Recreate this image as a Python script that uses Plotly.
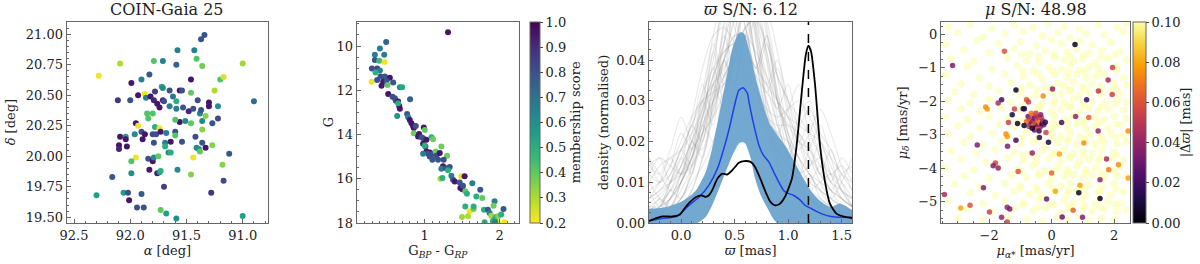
import plotly.graph_objects as go

# ---------------- Panel 1: sky positions ----------------
p1_ra = [91.34, 91.37, 91.58, 91.43, 92.09, 91.79, 91.71, 91.41, 91.59, 91.36, 91.00, 92.28, 91.83, 91.90, 91.99,
         91.46, 91.20, 91.17, 91.25, 92.11, 92.00, 91.93, 91.87, 91.86, 91.82, 91.78, 91.79, 91.76, 91.72, 91.71,
         91.65, 91.71, 91.70, 91.74, 91.65, 91.62, 91.59, 91.59, 91.56, 91.54, 91.46, 91.53, 91.56, 91.60, 91.51,
         91.48, 91.44, 91.40, 91.38, 91.37, 91.36, 91.33, 91.30, 91.30, 91.22, 91.22, 91.27, 91.36, 91.46, 91.85,
         91.80, 91.84, 91.95, 91.93, 91.90, 91.87, 91.80, 91.78, 91.74, 91.77, 91.73, 91.68, 91.60, 91.60, 91.96,
         92.09, 92.04, 92.04, 92.10, 92.03, 92.10, 91.89, 91.79, 91.69, 91.69, 91.64, 91.66, 91.64, 91.54, 91.42,
         91.41, 91.39, 91.38, 91.36, 91.33, 91.27, 91.12, 91.84, 91.80, 91.79, 91.75, 91.95, 91.99, 91.44, 91.18,
         91.83, 91.76, 91.74, 91.73, 91.58, 91.46, 91.99, 92.16, 91.70, 91.17, 92.30, 92.06, 92.02, 91.90, 92.01,
         91.28, 91.94, 91.88, 91.73, 91.68, 91.59, 91.00, 90.90]
p1_dec = [20.995, 20.96, 20.87, 20.87, 20.76, 20.78, 20.78, 20.80, 20.75, 20.74, 20.76, 20.66, 20.67, 20.63, 20.60,
          20.63, 20.63, 20.65, 20.54, 20.46, 20.46, 20.50, 20.51, 20.48, 20.49, 20.53, 20.46, 20.43, 20.57, 20.56,
          20.54, 20.46, 20.45, 20.40, 20.41, 20.49, 20.45, 20.39, 20.54, 20.54, 20.52, 20.40, 20.28, 20.30, 20.29,
          20.37, 20.39, 20.46, 20.35, 20.38, 20.29, 20.33, 20.44, 20.41, 20.41, 20.31, 20.27, 20.22, 20.27, 20.35,
          20.35, 20.31, 20.27, 20.25, 20.20, 20.18, 20.18, 20.24, 20.23, 20.18, 20.20, 20.19, 20.20, 20.17, 20.18,
          20.16, 20.16, 20.14, 20.09, 20.08, 20.06, 20.14, 20.11, 20.11, 20.08, 20.12, 20.03, 20.03, 20.12, 20.16,
          20.07, 20.06, 20.04, 20.11, 20.07, 20.09, 20.02, 19.98, 19.96, 19.99, 20.00, 19.99, 19.96, 19.99, 19.93,
          19.89, 19.86, 19.87, 19.88, 19.89, 19.85, 19.86, 19.83, 19.75, 19.80, 19.68, 19.70, 19.70, 19.69, 19.64,
          19.70, 19.58, 19.58, 19.56, 19.53, 19.49, 19.51, 20.45]
p1_memb = [0.78, 0.80, 0.65, 0.65, 0.30, 0.42, 0.65, 0.42, 0.75, 0.38, 0.32, 0.22, 0.78, 0.65, 0.95,
           0.95, 0.42, 0.25, 0.30, 0.88, 0.80, 0.95, 0.22, 0.65, 0.95, 0.85, 0.92, 0.95, 0.50, 0.62,
           0.80, 0.92, 0.80, 0.95, 0.65, 0.68, 0.50, 0.65, 0.95, 0.82, 0.40, 0.78, 0.95, 0.42, 0.62,
           0.92, 0.80, 0.80, 0.65, 0.78, 0.62, 0.35, 0.95, 0.95, 0.60, 0.82, 0.78, 0.35, 0.40, 0.42,
           0.42, 0.42, 0.95, 0.22, 0.82, 0.95, 0.82, 0.50, 0.22, 0.80, 0.95, 0.65, 0.80, 0.42, 0.62,
           0.95, 0.55, 0.95, 0.95, 0.95, 0.92, 0.95, 0.80, 0.65, 0.50, 0.95, 0.62, 0.50, 0.80, 0.80,
           0.62, 0.60, 0.40, 0.78, 0.95, 0.35, 0.78, 0.80, 0.95, 0.62, 0.40, 0.22, 0.42, 0.22, 0.35,
           0.95, 0.95, 0.62, 0.50, 0.62, 0.35, 0.60, 0.78, 0.85, 0.82, 0.55, 0.55, 0.80, 0.78, 0.95,
           0.88, 0.80, 0.80, 0.40, 0.55, 0.60, 0.55, 0.72]

# ---------------- Panel 2: CMD ----------------
p2_bprp = [1.311, 0.484, 0.400, 0.333, 0.458, 0.333, 0.391, 0.462, 0.293, 0.364, 0.400, 0.342, 0.409, 0.467, 0.533,
           0.289, 0.364, 0.444, 0.489, 0.502, 0.422, 0.578, 0.667, 0.698, 0.511, 0.569, 0.600, 0.613, 0.644, 0.804,
           0.658, 0.667, 0.644, 0.631, 0.764, 0.778, 0.800, 0.822, 0.844, 0.853, 0.880, 0.987, 0.853, 0.924, 1.000,
           0.911, 0.956, 0.978, 1.022, 0.978, 1.009, 1.089, 1.111, 1.022, 1.067, 1.044, 1.067, 1.111, 1.147, 1.156,
           1.200, 1.102, 1.178, 1.000, 0.978, 1.222, 1.298, 1.253, 1.244, 1.222, 1.289, 1.333, 1.311, 1.356, 1.378,
           1.400, 1.209, 1.236, 1.489, 1.533, 1.467, 1.476, 1.502, 1.511, 1.542, 1.564, 1.636, 1.742, 1.769, 1.689,
           1.542, 1.600, 1.653, 1.578, 1.653, 1.791, 1.844, 1.933, 1.920, 1.867, 1.800, 1.889, 1.933, 1.956, 1.982,
           2.022, 1.978, 1.911, 1.942, 2.053, 1.498, 2.067]
p2_gmag = [9.38, 9.82, 10.11, 10.39, 10.39, 10.63, 10.66, 10.72, 11.02, 11.02, 11.11, 11.20, 11.38, 11.38, 11.43,
           11.62, 11.53, 11.61, 11.58, 11.76, 11.80, 11.65, 11.86, 11.86, 12.17, 12.29, 12.36, 12.47, 12.51, 12.41,
           12.71, 12.84, 12.59, 13.16, 13.07, 13.22, 13.34, 13.49, 13.61, 13.71, 13.61, 13.68, 13.94, 13.98, 13.80,
           14.09, 14.12, 14.17, 14.24, 14.42, 14.54, 14.12, 14.21, 14.77, 14.81, 14.87, 14.99, 14.87, 14.77, 14.96,
           14.84, 15.14, 15.14, 14.50, 14.87, 14.54, 14.96, 15.14, 15.44, 15.55, 15.52, 15.47, 15.62, 15.86, 16.05,
           16.12, 16.00, 15.97, 15.89, 15.89, 16.17, 16.42, 16.47, 16.32, 16.57, 16.68, 16.20, 16.50, 16.87, 16.80,
           17.25, 17.47, 17.37, 17.70, 17.25, 17.40, 17.40, 17.02, 17.22, 17.55, 17.97, 17.67, 17.85, 17.73, 17.70,
           17.62, 18.00, 17.92, 17.97, 17.37, 17.73, 17.97]
p2_memb = [0.95, 0.75, 0.65, 0.65, 0.65, 0.78, 0.45, 0.22, 0.82, 0.82, 0.65, 0.50, 0.80, 0.78, 0.95,
           0.22, 0.80, 0.95, 0.80, 0.40, 0.95, 0.78, 0.62, 0.52, 0.95, 0.80, 0.80, 0.78, 0.95, 0.75,
           0.95, 0.95, 0.50, 0.58, 0.78, 0.65, 0.95, 0.95, 0.95, 0.95, 0.80, 0.95, 0.38, 0.95, 0.40,
           0.95, 0.80, 0.80, 0.95, 0.95, 0.80, 0.50, 0.38, 0.95, 0.95, 0.80, 0.80, 0.80, 0.38, 0.80,
           0.95, 0.78, 0.80, 0.50, 0.65, 0.38, 0.38, 0.80, 0.95, 0.65, 0.80, 0.80, 0.50, 0.65, 0.78,
           0.95, 0.30, 0.50, 0.22, 0.95, 0.78, 0.95, 0.95, 0.80, 0.40, 0.50, 0.65, 0.78, 0.40, 0.50,
           0.50, 0.22, 0.38, 0.30, 0.50, 0.50, 0.78, 0.65, 0.38, 0.65, 0.50, 0.32, 0.65, 0.50, 0.35,
           0.50, 0.22, 0.50, 0.65, 0.78, 0.32, 0.22]

# ---------------- Panel 3: parallax densities ----------------
plx_grid = [-0.3, -0.2, -0.1, 0.0, 0.1, 0.2, 0.3, 0.4, 0.5, 0.6, 0.7, 0.8, 0.9, 1.0, 1.1, 1.2, 1.3, 1.4, 1.5, 1.6]
gray_curves = [
    [0.002, 0.004, 0.008, 0.014, 0.020, 0.028, 0.036, 0.044, 0.052, 0.050, 0.040, 0.030, 0.022, 0.016, 0.010, 0.006, 0.004, 0.002, 0.001, 0.001],
    [0.000, 0.001, 0.003, 0.006, 0.012, 0.022, 0.034, 0.048, 0.058, 0.054, 0.040, 0.026, 0.016, 0.010, 0.008, 0.006, 0.003, 0.001, 0.000, 0.000],
    [0.006, 0.008, 0.010, 0.012, 0.016, 0.022, 0.030, 0.036, 0.040, 0.038, 0.032, 0.026, 0.022, 0.020, 0.016, 0.012, 0.008, 0.006, 0.004, 0.003],
    [0.000, 0.000, 0.002, 0.004, 0.008, 0.016, 0.028, 0.044, 0.060, 0.062, 0.048, 0.028, 0.014, 0.006, 0.003, 0.001, 0.000, 0.000, 0.000, 0.000],
    [0.012, 0.010, 0.012, 0.018, 0.024, 0.030, 0.034, 0.038, 0.042, 0.040, 0.036, 0.032, 0.028, 0.024, 0.020, 0.018, 0.014, 0.010, 0.008, 0.006],
    [0.004, 0.006, 0.010, 0.016, 0.026, 0.038, 0.046, 0.048, 0.044, 0.036, 0.028, 0.022, 0.018, 0.014, 0.010, 0.008, 0.006, 0.004, 0.003, 0.002],
    [0.001, 0.002, 0.004, 0.006, 0.010, 0.014, 0.020, 0.030, 0.042, 0.056, 0.058, 0.046, 0.032, 0.020, 0.012, 0.008, 0.005, 0.003, 0.002, 0.001],
    [0.016, 0.012, 0.008, 0.010, 0.016, 0.024, 0.032, 0.040, 0.046, 0.044, 0.036, 0.026, 0.018, 0.014, 0.012, 0.014, 0.016, 0.012, 0.008, 0.004],
    [0.002, 0.004, 0.006, 0.010, 0.018, 0.030, 0.042, 0.054, 0.062, 0.058, 0.046, 0.034, 0.024, 0.016, 0.010, 0.006, 0.004, 0.002, 0.001, 0.001],
    [0.000, 0.001, 0.002, 0.004, 0.006, 0.010, 0.016, 0.024, 0.034, 0.046, 0.054, 0.052, 0.042, 0.030, 0.020, 0.012, 0.008, 0.004, 0.002, 0.001],
    [0.008, 0.010, 0.014, 0.020, 0.026, 0.030, 0.032, 0.034, 0.036, 0.034, 0.030, 0.026, 0.024, 0.024, 0.022, 0.018, 0.012, 0.008, 0.004, 0.002],
    [0.003, 0.005, 0.008, 0.012, 0.020, 0.032, 0.046, 0.058, 0.064, 0.056, 0.040, 0.026, 0.016, 0.010, 0.006, 0.004, 0.002, 0.001, 0.001, 0.000],
    [0.000, 0.002, 0.006, 0.012, 0.018, 0.022, 0.026, 0.032, 0.040, 0.048, 0.050, 0.044, 0.036, 0.030, 0.026, 0.022, 0.016, 0.010, 0.006, 0.004],
    [0.010, 0.014, 0.016, 0.018, 0.022, 0.028, 0.036, 0.042, 0.044, 0.040, 0.032, 0.024, 0.018, 0.014, 0.010, 0.008, 0.010, 0.012, 0.010, 0.006],
    [0.001, 0.001, 0.003, 0.006, 0.012, 0.020, 0.030, 0.040, 0.050, 0.060, 0.060, 0.050, 0.036, 0.022, 0.012, 0.006, 0.003, 0.001, 0.000, 0.000],
    [0.005, 0.007, 0.010, 0.014, 0.020, 0.026, 0.034, 0.040, 0.046, 0.046, 0.042, 0.036, 0.030, 0.026, 0.024, 0.022, 0.020, 0.016, 0.012, 0.008],
    [0.002, 0.003, 0.006, 0.010, 0.016, 0.026, 0.040, 0.052, 0.056, 0.048, 0.034, 0.022, 0.014, 0.010, 0.008, 0.006, 0.004, 0.002, 0.001, 0.001],
    [0.014, 0.016, 0.014, 0.012, 0.014, 0.020, 0.028, 0.036, 0.040, 0.038, 0.032, 0.028, 0.026, 0.028, 0.030, 0.026, 0.020, 0.014, 0.008, 0.004],
    [0.000, 0.001, 0.002, 0.004, 0.008, 0.016, 0.026, 0.040, 0.054, 0.066, 0.062, 0.048, 0.030, 0.016, 0.008, 0.004, 0.002, 0.001, 0.000, 0.000],
    [0.006, 0.008, 0.012, 0.018, 0.024, 0.032, 0.038, 0.042, 0.044, 0.042, 0.038, 0.034, 0.030, 0.026, 0.020, 0.016, 0.012, 0.008, 0.006, 0.004],
    [0.001, 0.002, 0.004, 0.008, 0.014, 0.022, 0.032, 0.044, 0.054, 0.056, 0.050, 0.040, 0.030, 0.022, 0.016, 0.012, 0.010, 0.008, 0.006, 0.004],
    [0.004, 0.004, 0.006, 0.010, 0.016, 0.024, 0.030, 0.034, 0.040, 0.048, 0.050, 0.042, 0.030, 0.020, 0.014, 0.010, 0.008, 0.006, 0.004, 0.003],
    [0.016, 0.010, 0.014, 0.022, 0.018, 0.026, 0.038, 0.030, 0.044, 0.052, 0.040, 0.034, 0.040, 0.028, 0.020, 0.024, 0.016, 0.012, 0.014, 0.010],
    [0.002, 0.006, 0.004, 0.010, 0.020, 0.016, 0.030, 0.046, 0.038, 0.056, 0.048, 0.036, 0.028, 0.034, 0.022, 0.014, 0.020, 0.012, 0.006, 0.004],
    [0.008, 0.004, 0.010, 0.016, 0.012, 0.024, 0.020, 0.036, 0.050, 0.042, 0.058, 0.040, 0.024, 0.018, 0.026, 0.030, 0.018, 0.010, 0.016, 0.012],
    [0.000, 0.003, 0.008, 0.006, 0.014, 0.030, 0.024, 0.040, 0.034, 0.048, 0.036, 0.044, 0.030, 0.020, 0.012, 0.018, 0.024, 0.016, 0.008, 0.006],
    [0.012, 0.016, 0.010, 0.014, 0.024, 0.020, 0.034, 0.028, 0.046, 0.060, 0.044, 0.030, 0.022, 0.028, 0.034, 0.020, 0.012, 0.018, 0.010, 0.004],
    [0.004, 0.002, 0.006, 0.012, 0.022, 0.034, 0.026, 0.050, 0.064, 0.048, 0.038, 0.046, 0.032, 0.022, 0.016, 0.010, 0.014, 0.008, 0.012, 0.014],
    [0.006, 0.010, 0.016, 0.012, 0.018, 0.028, 0.044, 0.036, 0.042, 0.054, 0.050, 0.032, 0.038, 0.026, 0.018, 0.022, 0.028, 0.022, 0.014, 0.008],
    [0.010, 0.006, 0.004, 0.010, 0.016, 0.026, 0.036, 0.058, 0.048, 0.040, 0.052, 0.042, 0.026, 0.016, 0.022, 0.016, 0.010, 0.006, 0.010, 0.016],
    [0.001, 0.004, 0.010, 0.018, 0.014, 0.022, 0.042, 0.034, 0.060, 0.070, 0.046, 0.028, 0.020, 0.014, 0.010, 0.012, 0.006, 0.004, 0.002, 0.002],
    [0.014, 0.012, 0.018, 0.026, 0.020, 0.018, 0.030, 0.040, 0.034, 0.044, 0.038, 0.046, 0.036, 0.030, 0.024, 0.028, 0.022, 0.018, 0.012, 0.010],
]
band_x = [-0.30, -0.20, -0.10, 0.00, 0.10, 0.15, 0.23, 0.29, 0.355, 0.417, 0.48, 0.54, 0.57, 0.60, 0.62, 0.65, 0.69,
          0.75, 0.80, 0.835, 0.85, 0.90, 0.99, 1.067, 1.145, 1.22, 1.31, 1.40, 1.48, 1.53, 1.60]
band_lo = [0.000, 0.000, 0.000, 0.000, 0.000, 0.000, 0.0015, 0.0043, 0.0084, 0.0125, 0.0166, 0.0195, 0.0199, 0.0195,
           0.0183, 0.0160, 0.0110, 0.0065, 0.0040, 0.0023, 0.0015, 0.000, 0.000, 0.000, 0.000, 0.000, 0.000, 0.000,
           0.000, 0.000, 0.000]
band_hi = [0.0035, 0.0037, 0.0042, 0.0052, 0.0070, 0.0084, 0.0125, 0.0183, 0.0265, 0.0347, 0.0429, 0.0466, 0.0468,
           0.0461, 0.0440, 0.0411, 0.0363, 0.0306, 0.0261, 0.0240, 0.0235, 0.0216, 0.0183, 0.0146, 0.0109, 0.0076,
           0.0052, 0.0039, 0.0048, 0.0043, 0.0031]
mean_x = [-0.30, -0.18, -0.05, 0.01, 0.08, 0.17, 0.26, 0.34, 0.40, 0.45, 0.50, 0.54, 0.58, 0.62, 0.634, 0.68, 0.727,
          0.77, 0.82, 0.866, 0.912, 0.958, 1.005, 1.05, 1.113, 1.16, 1.22, 1.31, 1.40, 1.50, 1.60]
mean_y = [0.0005, 0.0011, 0.0015, 0.0027, 0.0045, 0.0064, 0.0093, 0.0134, 0.0183, 0.0232, 0.0289, 0.0326, 0.0332,
          0.0318, 0.0298, 0.0240, 0.0191, 0.0166, 0.0150, 0.0125, 0.0101, 0.0080, 0.0072, 0.0068, 0.0056, 0.0043,
          0.0035, 0.0023, 0.0016, 0.0014, 0.0014]
clus_x = [-0.30, -0.23, -0.17, -0.08, -0.015, 0.03, 0.077, 0.14, 0.186, 0.23, 0.26, 0.29, 0.34, 0.387, 0.43, 0.48,
          0.54, 0.59, 0.65, 0.69, 0.74, 0.79, 0.835, 0.88, 0.927, 0.97, 1.036, 1.08, 1.128, 1.165, 1.19, 1.215,
          1.252, 1.298, 1.345, 1.39, 1.452, 1.53, 1.60]
clus_y = [0.0005, 0.0012, 0.0016, 0.0016, 0.0020, 0.0035, 0.0050, 0.0064, 0.0068, 0.0064, 0.0068, 0.0080, 0.0109,
          0.0121, 0.0119, 0.0130, 0.0148, 0.0152, 0.0150, 0.0138, 0.0109, 0.0076, 0.0052, 0.0043, 0.0048, 0.0064,
          0.0109, 0.0191, 0.0322, 0.0412, 0.0435, 0.0420, 0.0339, 0.0191, 0.0101, 0.0048, 0.0023, 0.0015, 0.0012]
cluster_plx = 1.19

# ---------------- Panel 4: proper motions ----------------
bg_pmra = [
    -3.3, -2.6, -1.9, -1.2, -0.6, -0.1, 0.4, 0.9, 1.5, 2.1, 2.4,
    -3.0, -2.2, -1.5, -0.9, -0.3, 0.2, 0.6, 1.1, 1.7, 2.3,
    -3.4, -2.4, -1.7, -1.0, -0.5, 0.0, 0.3, 0.9, 1.3, 1.9,
    -2.8, -2.0, -1.2, -0.7, -0.2, 0.5, 0.8, 1.2, 1.6, 2.2,
    -3.2, -2.5, -1.4, -0.8, -0.4, 0.1, 0.4, 0.7, 1.0, 1.4, 1.8, 2.4,
    -2.7, -1.9, -1.1, -0.6, -0.1, 0.3, 0.6, 0.9, 1.2, 1.5, 2.1,
    -3.4, -2.3, -1.5, -0.9, -0.3, 0.1, 0.5, 0.8, 1.1, 1.4, 1.7, 2.3,
    -2.9, -2.0, -1.3, -0.7, -0.2, 0.2, 0.4, 0.7, 1.0, 1.3, 1.6, 2.0, 2.4,
    -3.1, -2.5, -1.7, -1.0, -0.5, 0.0, 0.3, 0.6, 0.9, 1.2, 1.6, 1.9, 2.2,
    -3.3, -2.6, -2.0, -1.3, -0.8, -0.3, 0.1, 0.4, 0.7, 1.0, 1.3, 1.7, 2.1, 2.4,
    -2.9, -2.3, -1.6, -1.0, -0.4, 0.0, 0.3, 0.6, 0.9, 1.2, 1.5, 1.8, 2.3,
    -3.4, -2.7, -2.0, -1.4, -0.9, 0.1, 0.4, 0.7, 1.0, 1.4, 1.7, 2.0, 2.4,
    -3.0, -2.3, -1.7, -1.2, 0.0, 0.2, 0.5, 0.8, 1.1, 1.4, 1.8, 2.2,
    -3.3, -2.6, -1.9, -1.4, -0.8, -0.4, 0.0, 0.3, 0.6, 0.9, 1.2, 1.6, 1.9, 2.3,
    -2.8, -2.2, -1.6, -1.0, -0.6, -0.2, 0.2, 0.5, 0.8, 1.1, 1.4, 1.7, 2.1, 2.4,
    -3.2, -2.4, -1.8, -1.2, -0.7, -0.3, 0.1, 0.4, 0.7, 1.0, 1.3, 1.6, 2.0,
    -2.9, -2.1, -1.4, -0.9, -0.5, -0.1, 0.3, 0.6, 0.9, 1.2, 1.5, 1.9, 2.3,
    -3.4, -2.5, -1.7, -1.1, -0.6, -0.2, 0.2, 0.5, 0.8, 1.1, 1.4, 1.8, 2.2,
    -2.8, -2.0, -1.3, -0.8, -0.4, 0.0, 0.4, 0.7, 1.0, 1.3, 1.7, 2.1, 2.4,
    -3.1, -2.3, -1.5, -1.0, -0.5, -0.1, 0.3, 0.6, 0.9, 1.2, 1.6, 2.0,
    -2.6, -1.8, -1.2, -0.7, -0.3, 0.1, 0.5, 0.8, 1.1, 1.5, 1.9, 2.3,
    -3.3, -2.2, -1.5, -0.9, -0.4, 0.0, 0.4, 0.7, 1.0, 1.4, 1.8, 2.2,
    -2.7, -1.9, -1.2, -0.6, -0.2, 0.3, 0.6, 1.0, 1.3, 1.7, 2.1, 2.4,
    -3.0, -2.2, -1.4, -0.8, -0.3, 0.2, 0.5, 0.9, 1.2, 1.6, 2.0,
    -0.95, -0.42, 0.08, 0.57, 1.03, 1.58, 2.04,
    -0.92, -0.45, 0.05, 0.53, 1.07, 1.55, 2.08,
    -0.97, -0.48, 0.02, 0.56, 1.04, 1.52, 2.06,
    -0.94, -0.43, 0.06, 0.58, 1.06, 1.57, 2.03,
    -1.05, 0.07, 0.54, 1.02, 1.53, 2.07,
    -0.96, -0.44, 0.04, 0.55, 1.05, 1.56, 2.05,
    -0.93, -0.47, 0.03, 0.57, 1.03, 1.54, 2.07,
    -0.95, -0.41, 0.08, 0.52, 1.08, 1.58, 2.02,
    -0.98, -0.46, 0.05, 0.56, 1.04, 1.53, 2.06,
    -0.91, -0.44, 0.06, 0.55, 1.06, 1.57, 2.04,
]
bg_pmdec = [
    0.22, 0.30, 0.18, 0.27, 0.20, 0.31, 0.24, 0.16, 0.29, 0.21, 0.33,
    0.05, -0.08, 0.02, 0.09, -0.04, 0.06, -0.10, 0.03, -0.02, 0.08,
    -0.30, -0.18, -0.27, -0.22, -0.33, -0.16, -0.28, -0.20, -0.31, -0.24,
    -0.46, -0.55, -0.42, -0.58, -0.49, -0.53, -0.44, -0.57, -0.48, -0.52,
    -0.72, -0.81, -0.70, -0.78, -0.83, -0.69, -0.76, -0.80, -0.73, -0.85, -0.71, -0.77,
    -0.96, -1.05, -0.93, -1.08, -0.99, -1.04, -0.91, -1.06, -0.97, -1.02, -0.94,
    -1.22, -1.30, -1.19, -1.27, -1.33, -1.21, -1.28, -1.18, -1.31, -1.24, -1.20, -1.29,
    -1.47, -1.55, -1.44, -1.52, -1.58, -1.46, -1.53, -1.42, -1.56, -1.49, -1.54, -1.45, -1.51,
    -1.72, -1.80, -1.69, -1.77, -1.83, -1.71, -1.78, -1.68, -1.81, -1.74, -1.79, -1.70, -1.76,
    -1.97, -2.05, -1.94, -2.02, -1.92, -2.07, -1.96, -2.03, -1.93, -2.06, -1.99, -2.04, -1.95, -2.01,
    -2.22, -2.30, -2.19, -2.27, -2.20, -2.32, -2.24, -2.18, -2.29, -2.21, -2.28, -2.23, -2.26,
    -2.47, -2.55, -2.44, -2.52, -2.58, -2.46, -2.53, -2.43, -2.56, -2.49, -2.54, -2.45, -2.51,
    -2.72, -2.80, -2.69, -2.78, -2.83, -2.71, -2.77, -2.68, -2.81, -2.74, -2.79, -2.70,
    -2.97, -3.05, -2.94, -3.02, -2.92, -3.07, -2.96, -3.03, -2.93, -3.06, -2.99, -3.04, -2.95, -3.01,
    -3.22, -3.30, -3.19, -3.27, -3.20, -3.32, -3.24, -3.18, -3.29, -3.21, -3.28, -3.23, -3.26, -3.20,
    -3.47, -3.55, -3.44, -3.52, -3.58, -3.46, -3.53, -3.43, -3.56, -3.49, -3.54, -3.45, -3.51,
    -3.72, -3.80, -3.69, -3.77, -3.83, -3.71, -3.78, -3.68, -3.81, -3.74, -3.79, -3.70, -3.76,
    -3.97, -4.05, -3.94, -4.02, -3.92, -4.07, -3.96, -4.03, -3.93, -4.06, -3.99, -4.04, -3.95,
    -4.22, -4.30, -4.19, -4.27, -4.20, -4.32, -4.24, -4.18, -4.29, -4.21, -4.28, -4.23, -4.26,
    -4.47, -4.55, -4.44, -4.52, -4.58, -4.46, -4.53, -4.43, -4.56, -4.49, -4.54, -4.45,
    -4.72, -4.80, -4.69, -4.77, -4.83, -4.71, -4.78, -4.68, -4.81, -4.74, -4.79, -4.70,
    -4.97, -5.05, -4.94, -5.02, -4.92, -5.07, -4.96, -5.03, -4.93, -5.06, -4.99, -5.04,
    -5.22, -5.30, -5.19, -5.27, -5.20, -5.32, -5.24, -5.18, -5.29, -5.21, -5.28, -5.23,
    -5.47, -5.55, -5.44, -5.52, -5.58, -5.46, -5.53, -5.43, -5.56, -5.49, -5.54,
    -0.60, -0.66, -0.59, -0.65, -0.62, -0.68, -0.61,
    -1.10, -1.16, -1.09, -1.14, -1.12, -1.17, -1.08,
    -1.60, -1.66, -1.59, -1.65, -1.62, -1.68, -1.61,
    -2.10, -2.16, -2.09, -2.14, -2.12, -2.17, -2.08,
    -2.60, -2.66, -2.59, -2.65, -2.62, -2.68,
    -3.10, -3.16, -3.09, -3.14, -3.12, -3.17, -3.08,
    -3.60, -3.66, -3.59, -3.65, -3.62, -3.68, -3.61,
    -4.10, -4.16, -4.09, -4.14, -4.12, -4.17, -4.08,
    -4.60, -4.66, -4.59, -4.65, -4.62, -4.68, -4.61,
    -5.10, -5.16, -5.09, -5.14, -5.12, -5.17, -5.08,
]
bg_dplx = 0.1

mem_pmra = [0.75, -1.51, -3.17, 1.95, 1.81, 0.03, -1.14, 1.50, 1.94, -1.60, -0.27, 1.12, -0.80, -0.74, -2.11, -2.06,
            -1.71, -1.19, -0.91, -0.87, -1.26, -1.38, -1.09, 0.32, 0.77, 1.19, 2.45, 1.49, -0.18, -0.39, -0.10,
            -1.46, -1.42, -1.14, -1.41, -2.38, 1.03, 0.25, -0.62, 1.76, -1.80, -1.87, -1.07, -1.71, 1.83, 2.14,
            1.55, 2.45, 0.00, -2.18, -3.43, 0.91, 0.87, 0.12, -0.16, 1.55, -2.91, -2.61, -1.99, -1.42, -1.34,
            -1.60, -1.42, 0.34, 0.99, 0.69,
            -0.75, -0.70, -0.68, -0.62, -0.60, -0.58, -0.55, -0.52, -0.50, -0.48, -0.45, -0.42, -0.40, -0.38,
            -0.35, -0.33, -0.30, -0.28, -0.25, -0.65, -0.55, -0.45, -0.72, -0.80, -0.35, -0.20, -0.62, -0.88,
            -0.50, -0.40]
mem_pmdec = [-0.30, -0.50, -0.93, -0.99, -1.36, -1.63, -1.66, -1.69, -1.79, -1.95, -1.84, -1.95, -1.95, -2.02, -2.17,
             -2.23, -2.05, -2.23, -2.22, -2.22, -2.40, -2.63, -2.66, -2.63, -2.45, -2.48, -2.88, -2.88, -2.93, -3.08,
             -3.22, -2.97, -3.05, -3.16, -3.34, -3.30, -3.24, -3.57, -3.54, -3.72, -3.84, -3.92, -4.09, -3.99,
             -4.04, -3.89, -4.34, -4.29, -4.14, -4.58, -4.78, -4.50, -4.73, -4.68, -4.91, -4.90, -5.18, -5.10,
             -5.30, -5.16, -5.21, -5.46, -5.60, -5.45, -5.46, -5.25,
             -2.45, -2.55, -2.68, -2.42, -2.60, -2.72, -2.50, -2.65, -2.78, -2.45, -2.58, -2.70, -2.52, -2.62,
             -2.75, -2.48, -2.66, -2.58, -2.70, -2.35, -2.85, -2.82, -2.75, -2.60, -2.40, -2.62, -2.80, -2.72,
             -2.35, -2.88]
mem_dplx = [0.005, 0.060, 0.035, 0.055, 0.045, 0.040, 0.005, 0.050, 0.055, 0.020, 0.075, 0.020, 0.060, 0.055, 0.075, 0.078,
            0.045, 0.055, 0.010, 0.012, 0.010, 0.055, 0.005, 0.020, 0.040, 0.065, 0.075, 0.040, 0.055, 0.015, 0.010,
            0.075, 0.078, 0.020, 0.035, 0.035, 0.075, 0.080, 0.040, 0.045, 0.055, 0.035, 0.060, 0.040, 0.070, 0.075,
            0.040, 0.080, 0.065, 0.035, 0.045, 0.080, 0.005, 0.080, 0.030, 0.005, 0.080, 0.060, 0.055, 0.040, 0.035,
            0.040, 0.055, 0.030, 0.035, 0.065,
            0.030, 0.050, 0.020, 0.060, 0.040, 0.070, 0.030, 0.055, 0.020, 0.045, 0.065, 0.035, 0.050, 0.075,
            0.040, 0.060, 0.010, 0.045, 0.030, 0.070, 0.025, 0.060, 0.050, 0.065, 0.035, 0.015, 0.010, 0.005,
            0.055, 0.020]

# ---------------- Figure ----------------
SERIF = "DejaVu Serif"
TXT = "#222222"
FRAME = "#666666"
W, H = 1200, 264
ytop, ybot = 21.7, 223.0
ydom = [(H - ybot) / H, (H - ytop) / H]
px = [(66.7, 268.0), (356.7, 519.0), (649.0, 852.3), (941.0, 1130.0)]
xdoms = [[a / W, b / W] for a, b in px]

fig = go.Figure()

# panel 1
fig.add_trace(go.Scatter(x=p1_ra, y=p1_dec, mode="markers", xaxis="x", yaxis="y", showlegend=False,
                         marker=dict(size=6, color=p1_memb, colorscale="Viridis", reversescale=True,
                                     cmin=0.2, cmax=1.0, line=dict(width=0))))
# panel 2
fig.add_trace(go.Scatter(x=p2_bprp, y=p2_gmag, mode="markers", xaxis="x2", yaxis="y2", showlegend=False,
                         marker=dict(size=6, color=p2_memb, colorscale="Viridis", reversescale=True,
                                     cmin=0.2, cmax=1.0, line=dict(width=0),
                                     colorbar=dict(x=530 / W, xanchor="left", y=ydom[0], yanchor="bottom",
                                                   len=ydom[1] - ydom[0], lenmode="fraction", thickness=10,
                                                   xpad=0, ypad=0,
                                                   outlinecolor=FRAME, outlinewidth=1,
                                                   tickvals=[0.2, 0.3, 0.4, 0.5, 0.6, 0.7, 0.8, 0.9, 1.0],
                                                   tickformat=".1f", ticks="outside", ticklen=3,
                                                   tickfont=dict(family=SERIF, size=13, color=TXT)))))
# panel 3
for c in gray_curves:
    fig.add_trace(go.Scatter(x=plx_grid, y=c, mode="lines", xaxis="x3", yaxis="y3", showlegend=False,
                             line=dict(color="rgba(128,128,128,0.17)", width=1.2, shape="spline", smoothing=0.8),
                             hoverinfo="skip"))
fig.add_trace(go.Scatter(x=band_x, y=band_lo, mode="lines", xaxis="x3", yaxis="y3", showlegend=False,
                         line=dict(width=0, shape="spline", smoothing=0.6), hoverinfo="skip"))
fig.add_trace(go.Scatter(x=band_x, y=band_hi, mode="lines", xaxis="x3", yaxis="y3", showlegend=False,
                         fill="tonexty", fillcolor="rgba(104,162,206,0.93)",
                         line=dict(width=0, shape="spline", smoothing=0.6), hoverinfo="skip"))
fig.add_trace(go.Scatter(x=mean_x, y=mean_y, mode="lines", xaxis="x3", yaxis="y3", showlegend=False,
                         line=dict(color="#1f3fe6", width=1.5, shape="spline", smoothing=0.6)))
fig.add_trace(go.Scatter(x=clus_x, y=clus_y, mode="lines", xaxis="x3", yaxis="y3", showlegend=False,
                         line=dict(color="black", width=1.8, shape="spline", smoothing=0.6)))
fig.add_shape(type="line", xref="x3", yref="y3 domain", x0=cluster_plx, x1=cluster_plx, y0=0, y1=1,
              line=dict(color="black", width=1.5, dash="dash"))

# panel 4
fig.add_trace(go.Scatter(x=bg_pmra, y=bg_pmdec, mode="markers", xaxis="x4", yaxis="y4", showlegend=False,
                         marker=dict(size=7.5, color=[bg_dplx] * len(bg_pmra), colorscale="Inferno",
                                     cmin=0, cmax=0.1, opacity=0.5, line=dict(width=0))))
fig.add_trace(go.Scatter(x=mem_pmra, y=mem_pmdec, mode="markers", xaxis="x4", yaxis="y4", showlegend=False,
                         marker=dict(size=5.5, color=mem_dplx, colorscale="Inferno", cmin=0, cmax=0.1,
                                     opacity=0.85, line=dict(width=0),
                                     colorbar=dict(x=1133 / W, xanchor="left", y=ydom[0], yanchor="bottom",
                                                   len=ydom[1] - ydom[0], lenmode="fraction", thickness=13,
                                                   xpad=0, ypad=0,
                                                   outlinecolor=FRAME, outlinewidth=1,
                                                   tickvals=[0, 0.02, 0.04, 0.06, 0.08, 0.1],
                                                   tickformat=".2f", ticks="outside", ticklen=3,
                                                   tickfont=dict(family=SERIF, size=13, color=TXT)))))

axis_common = dict(showline=True, linecolor=FRAME, linewidth=1.2, mirror=True, showgrid=False, zeroline=False,
                   ticks="inside", ticklen=4, tickcolor=FRAME, automargin=False,
                   tickfont=dict(family=SERIF, size=13, color=TXT),
                   title_font=dict(family=SERIF, size=13, color=TXT))

def minor(d):
    return dict(dtick=d, ticks="inside", ticklen=2, tickcolor=FRAME, showgrid=False)

fig.update_layout(
    width=W, height=H, margin=dict(l=0, r=0, t=0, b=0, autoexpand=False),
    paper_bgcolor="white", plot_bgcolor="white",
    xaxis=dict(axis_common, domain=xdoms[0], anchor="y", range=[92.565, 90.775],
               tickvals=[92.5, 92.0, 91.5, 91.0], tickformat=".1f", minor=minor(0.1),
               title=dict(text="<i>α</i> [deg]", standoff=4)),
    yaxis=dict(axis_common, domain=ydom, anchor="x", range=[19.453, 21.103],
               tickvals=[19.5, 19.75, 20.0, 20.25, 20.5, 20.75, 21.0], tickformat=".2f", minor=minor(0.05)),
    xaxis2=dict(axis_common, domain=xdoms[1], anchor="y2", range=[0.09, 2.26],
                tickvals=[1, 2], minor=minor(0.1),
                title=dict(text="G<sub><i>BP</i></sub> - G<sub><i>RP</i></sub>", standoff=4)),
    yaxis2=dict(axis_common, domain=ydom, anchor="x2", range=[18.0, 8.9],
                tickvals=[10, 12, 14, 16, 18], minor=minor(0.5)),
    xaxis3=dict(axis_common, domain=xdoms[2], anchor="y3", range=[-0.3, 1.6],
                tickvals=[0.0, 0.5, 1.0, 1.5], tickformat=".1f", minor=minor(0.1),
                title=dict(text="<i>ϖ</i> [mas]", standoff=4)),
    yaxis3=dict(axis_common, domain=ydom, anchor="x3", range=[0, 0.0494],
                tickvals=[0, 0.01, 0.02, 0.03, 0.04], tickformat=".2f", minor=minor(0.0025)),
    xaxis4=dict(axis_common, domain=xdoms[3], anchor="y4", range=[-3.54, 2.51],
                tickvals=[-2, 0, 2], minor=minor(0.5),
                title=dict(text="<i>μ<sub>α*</sub></i> [mas/yr]", standoff=4)),
    yaxis4=dict(axis_common, domain=ydom, anchor="x4", range=[-5.63, 0.38],
                tickvals=[0, -1, -2, -3, -4, -5], minor=minor(0.25)),
)

titles = ["COIN-Gaia 25", "", "<i>ϖ</i> S/N: 6.12", "<i>μ</i> S/N: 48.98"]
for t, d in zip(titles, xdoms):
    if t:
        fig.add_annotation(text=t, xref="paper", yref="paper", x=(d[0] + d[1]) / 2, y=ydom[1],
                           yanchor="bottom", xanchor="center", yshift=1, showarrow=False,
                           font=dict(family=SERIF, size=16, color=TXT))

# rotated labels (y-axis titles and colorbar labels), reading bottom-to-top
ymid = (ydom[0] + ydom[1]) / 2
side_labels = [("<i>δ</i> [deg]", 10), ("G", 328), ("membership score", 575),
               ("density (normalised)", 603), ("<i>μ<sub>δ</sub></i> [mas/yr]", 903), ("|Δ<i>ϖ</i>| [mas]", 1185)]
for txt, xc in side_labels:
    fig.add_annotation(text=txt, xref="paper", yref="paper", x=xc / W, y=ymid, textangle=-90,
                       showarrow=False, xanchor="center", yanchor="middle",
                       font=dict(family=SERIF, size=13, color=TXT))

# remove the default page margin so the 1200x264 figure fills the window exactly; hide the mode bar
fig.write_html("out.html", config={"displayModeBar": False},
               post_script="document.body.style.margin='0';document.body.style.overflow='hidden';")
